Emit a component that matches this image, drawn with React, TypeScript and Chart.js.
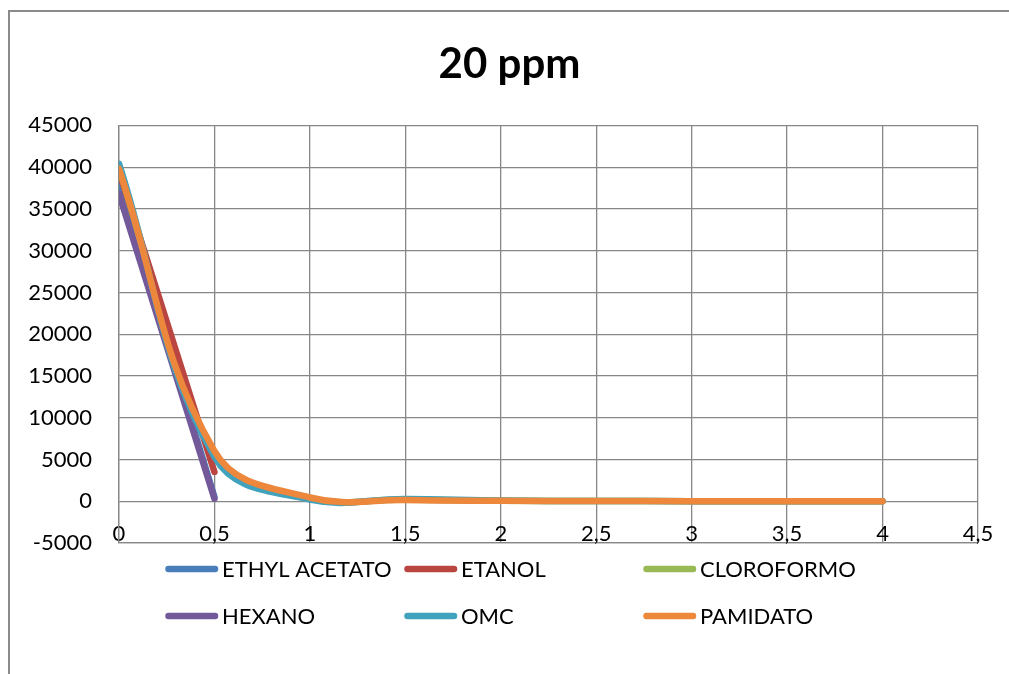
import React, { useEffect, useRef } from 'react';
import { Chart, registerables } from 'chart.js';

Chart.register(...registerables);

// ---- data ----
const TITLE = '20 ppm';
const SERIES_NAMES = ['ETHYL ACETATO', 'ETANOL', 'CLOROFORMO', 'HEXANO', 'OMC', 'PAMIDATO'];
const X_SHORT = [0, 0.5];
const X_FULL = [0, 0.5, 1, 1.5, 2, 2.5, 3, 3.5, 4];
const ETHYL_ACETATO = [38000, 500];
const ETANOL = [39500, 3500];
const CLOROFORMO = [39800, 5600, 350, 200, 60, 30, 10, 0, 0];
const HEXANO = [36800, 300];
const OMC = [40400, 5300, 200, 280, 80, 30, 10, 0, 0];
const PAMIDATO = [39800, 6000, 450, 150, 60, 30, 10, 0, 0];
const X_TICKS = { min: 0, max: 4.5, step: 0.5 };
const Y_TICKS = { min: -5000, max: 45000, step: 5000 };

// ---- styles ----
const COLORS = ['#4A7EBB', '#BA4541', '#98B954', '#73599A', '#40A2BC', '#EC873C'];
const FONT = 'Lato, "Noto Sans", sans-serif';
const GRID = '#878787';
const CANVAS_W = 999;
const CANVAS_H = 662;

const fmt = (v: number) => String(Math.round(v * 1000) / 1000).replace('.', ',');

const gridLegend = {
  id: 'gridLegend',
  afterDraw(chart: any) {
    const ctx = chart.ctx as CanvasRenderingContext2D;
    const x0 = 155;
    const colW = 239;
    const y0 = 557;
    const rowH = 47;
    ctx.save();
    ctx.font = `22px ${FONT}`;
    ctx.textBaseline = 'middle';
    ctx.textAlign = 'left';
    chart.data.datasets.forEach((ds: any, i: number) => {
      const col = i % 3;
      const row = Math.floor(i / 3);
      const x = x0 + col * colW;
      const y = y0 + row * rowH;
      ctx.strokeStyle = ds.borderColor;
      ctx.lineWidth = 6.5;
      ctx.lineCap = 'round';
      ctx.beginPath();
      ctx.moveTo(x + 3.5, y);
      ctx.lineTo(x + 50, y);
      ctx.stroke();
      ctx.fillStyle = '#000';
      ctx.fillText(ds.label, x + 57, y + 1);
    });
    ctx.restore();
  },
};

export default function App() {
  const ref = useRef<HTMLCanvasElement | null>(null);

  useEffect(() => {
    if (!ref.current) return;
    const xs = [X_SHORT, X_SHORT, X_FULL, X_SHORT, X_FULL, X_FULL];
    const ys = [ETHYL_ACETATO, ETANOL, CLOROFORMO, HEXANO, OMC, PAMIDATO];
    const datasets = SERIES_NAMES.map((name, i) => ({
      label: name,
      data: ys[i].map((y, j) => ({ x: xs[i][j], y })),
      borderColor: COLORS[i],
      backgroundColor: COLORS[i],
      borderWidth: 6.5,
      borderCapStyle: 'round' as const,
      borderJoinStyle: 'round' as const,
      showLine: true,
      pointRadius: 0,
      pointHoverRadius: 0,
      tension: 0.4,
      fill: false,
      order: SERIES_NAMES.length - i,
    }));

    const chart = new Chart(ref.current, {
      type: 'scatter',
      data: { datasets },
      plugins: [gridLegend],
      options: {
        responsive: false,
        animation: false,
        devicePixelRatio: 1,
        layout: { padding: { left: 0, right: 0, top: 0, bottom: 111 } },
        plugins: {
          legend: { display: false },
          tooltip: { enabled: false },
          title: {
            display: true,
            text: TITLE,
            color: '#000',
            font: { family: FONT, size: 42, weight: 'bold' },
            padding: { top: 27, bottom: 36 },
          },
        },
        scales: {
          x: {
            type: 'linear',
            min: X_TICKS.min,
            max: X_TICKS.max,
            grid: { color: GRID, lineWidth: 1.3, drawTicks: false },
            border: { display: true, color: GRID, width: 1.3 },
            ticks: {
              stepSize: X_TICKS.step,
              autoSkip: false,
              maxRotation: 0,
              mirror: true,
              padding: -4,
              color: '#000',
              font: { family: FONT, size: 22 },
              callback: (v: any) => fmt(Number(v)),
            },
            afterFit: (s: any) => {
              s.height = 20;
              s.paddingRight = 31;
              s.paddingLeft = 0;
            },
          },
          y: {
            type: 'linear',
            min: Y_TICKS.min,
            max: Y_TICKS.max,
            grid: { color: GRID, lineWidth: 1.3, drawTicks: false },
            border: { display: true, color: GRID, width: 1.3 },
            ticks: {
              stepSize: Y_TICKS.step,
              padding: 27,
              color: '#000',
              font: { family: FONT, size: 22 },
              callback: (v: any) => fmt(Number(v)),
            },
            afterFit: (s: any) => {
              s.width = 109;
            },
          },
        },
      },
    });
    return () => chart.destroy();
  }, []);

  return (
    <div
      style={{
        position: 'absolute',
        left: 8,
        top: 10,
        width: 1001,
        height: 664,
        boxSizing: 'border-box',
        borderLeft: '2px solid #8a8a8a',
        borderTop: '2px solid #8a8a8a',
        background: '#fff',
        overflow: 'hidden',
      }}
    >
      <canvas ref={ref} width={CANVAS_W} height={CANVAS_H} style={{ display: 'block', width: CANVAS_W, height: CANVAS_H }} />
    </div>
  );
}
